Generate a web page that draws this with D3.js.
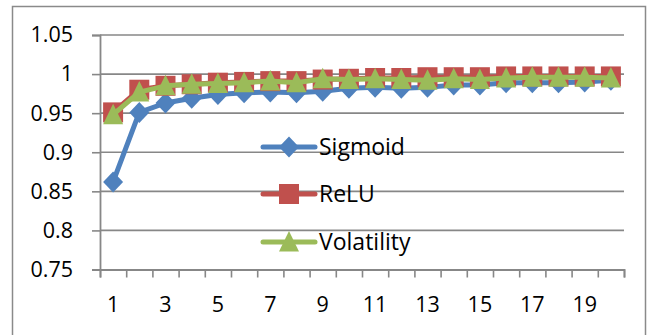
<!DOCTYPE html>
<html><head><meta charset="utf-8">
<script src="https://cdn.jsdelivr.net/npm/d3@7"></script>
<style>
html,body{margin:0;padding:0;background:#fff;}
svg{display:block;}
text{font-family:"Open Sans",sans-serif;fill:#000;}
</style></head>
<body>
<svg id="chart" width="651" height="335"></svg>
<script>
const categories = d3.range(1, 21);
const xTickLabels = [1, 3, 5, 7, 9, 11, 13, 15, 17, 19];
const yTicks = [0.75, 0.8, 0.85, 0.9, 0.95, 1, 1.05];
const yTickLabels = ["0.75", "0.8", "0.85", "0.9", "0.95", "1", "1.05"];
const sigmoid = [0.862, 0.951, 0.963, 0.969, 0.974, 0.976, 0.977, 0.976, 0.978, 0.982, 0.983, 0.982, 0.983, 0.986, 0.986, 0.989, 0.989, 0.989, 0.990, 0.992];
const relu = [0.951, 0.980, 0.985, 0.987, 0.989, 0.990, 0.991, 0.991, 0.993, 0.994, 0.995, 0.995, 0.996, 0.996, 0.996, 0.997, 0.997, 0.997, 0.997, 0.997];
const volatility = [0.948, 0.977, 0.985, 0.987, 0.988, 0.989, 0.991, 0.989, 0.994, 0.993, 0.994, 0.993, 0.992, 0.994, 0.993, 0.995, 0.996, 0.996, 0.996, 0.995];
const seriesNames = ["Sigmoid", "ReLU", "Volatility"];
const seriesColors = ["#4F81BD", "#C0504D", "#9BBB59"];
const seriesMarkers = ["diamond", "square", "triangle"];

const svg = d3.select("#chart");
const L = 100, R = 624, T = 35, B = 269.5;
const grid = "#878787";

// outer border
svg.append("rect").attr("x", 12.5).attr("y", 6.5).attr("width", 633).attr("height", 340)
  .attr("fill", "none").attr("stroke", "#8a8a8a").attr("stroke-width", 1.5);

const x = d3.scaleBand().domain(categories).range([L, R]).padding(0);
const xb = d3.scaleLinear().domain([0.5, 20.5]).range([L, R]);
const y = d3.scaleLinear().domain([0.75, 1.05]).range([B, T]);
const cx = d => x(d) + x.bandwidth() / 2;

// gridlines
svg.append("g").selectAll("line").data(yTicks.filter(v => v > 0.75)).join("line")
  .attr("x1", L).attr("x2", R).attr("y1", d => y(d)).attr("y2", d => y(d))
  .attr("stroke", grid).attr("stroke-width", 1.6);

// y axis
const yAxis = svg.append("g").attr("transform", `translate(${L},0)`)
  .call(d3.axisLeft(y).tickValues(yTicks).tickSize(8).tickPadding(19)
    .tickFormat((d, i) => yTickLabels[i]));
yAxis.select(".domain").attr("stroke", grid).attr("stroke-width", 1.8);
yAxis.selectAll(".tick line").attr("stroke", grid).attr("stroke-width", 1.6);
yAxis.selectAll("text").attr("font-size", 21.5).attr("font-family", "Open Sans").attr("fill", "#000");

// x axis with boundary ticks
const xAxis = svg.append("g").attr("transform", `translate(0,${B})`)
  .call(d3.axisBottom(xb).tickValues(d3.range(0.5, 21, 1)).tickSize(8).tickFormat(""));
xAxis.select(".domain").attr("stroke", grid).attr("stroke-width", 1.8);
xAxis.selectAll(".tick line").attr("stroke", grid).attr("stroke-width", 1.6);

svg.append("g").selectAll("text").data(xTickLabels).join("text")
  .attr("x", d => cx(d)).attr("y", 312).attr("text-anchor", "middle")
  .attr("font-size", 21.5).text(d => d);

// marker shapes
function markerPath(type) {
  if (type === "diamond") return "M0,-10.5L10,0L0,10.5L-10,0Z";
  if (type === "square") return "M-10,-10L10,-10L10,10L-10,10Z";
  return "M0,-11L10,9.5L-10,9.5Z";
}

const data = [sigmoid, relu, volatility];
const line = d3.line().x((d, i) => cx(categories[i])).y(d => y(d));

data.forEach((vals, s) => {
  const g = svg.append("g");
  g.append("path").attr("d", line(vals)).attr("fill", "none")
    .attr("stroke", seriesColors[s]).attr("stroke-width", 5)
    .attr("stroke-linejoin", "round").attr("stroke-linecap", "round");
  g.selectAll("path.m").data(vals).join("path").attr("class", "m")
    .attr("transform", (d, i) => `translate(${cx(categories[i])},${y(d)})`)
    .attr("d", markerPath(seriesMarkers[s])).attr("fill", seriesColors[s]);
});

// legend
const legY = [147, 194, 242];
seriesNames.forEach((name, s) => {
  const g = svg.append("g").attr("transform", `translate(0,${legY[s]})`);
  g.append("line").attr("x1", 263).attr("x2", 315).attr("y1", 0).attr("y2", 0)
    .attr("stroke", seriesColors[s]).attr("stroke-width", 5).attr("stroke-linecap", "round");
  g.append("path").attr("transform", "translate(289,0)").attr("d", markerPath(seriesMarkers[s]))
    .attr("fill", seriesColors[s]);
  g.append("text").attr("x", 319).attr("y", 8).attr("font-size", 23).text(name);
});
</script>
</body></html>
